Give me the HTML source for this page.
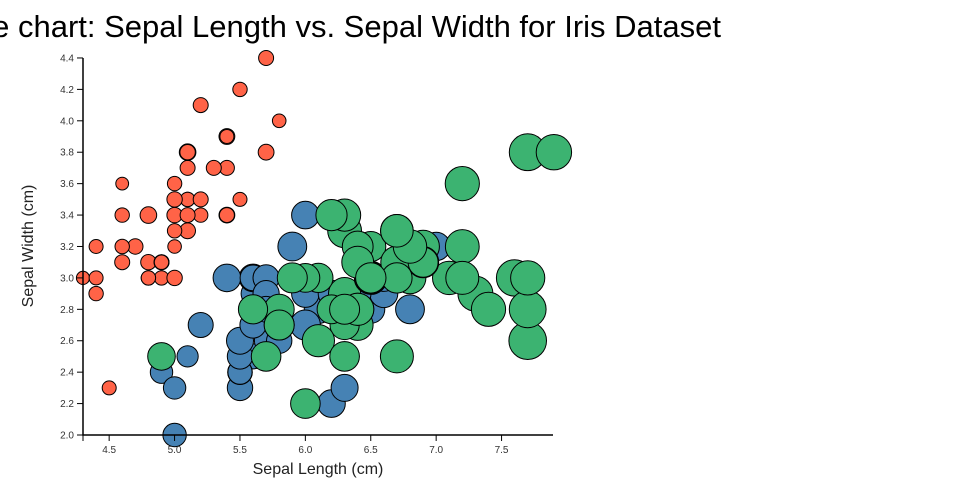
<!DOCTYPE html>
<html><head><meta charset="utf-8"><style>
html,body{margin:0;padding:0;background:#fff;}
svg{display:block;font-family:"Liberation Sans",sans-serif;}
</style></head><body>
<svg id="s" width="960" height="500" xmlns="http://www.w3.org/2000/svg">
<text x="721" y="37" font-size="31" text-anchor="end" fill="#000">Bubble chart: Sepal Length vs. Sepal Width for Iris Dataset</text>
<g id="pts" stroke="#000" stroke-width="1"></g>
<g id="ax" font-size="10" fill="#333"></g>
<text x="318" y="474" font-size="16" text-anchor="middle" fill="#222">Sepal Length (cm)</text>
<text transform="translate(33,246) rotate(-90)" font-size="16" text-anchor="middle" fill="#222">Sepal Width (cm)</text>
</svg>
<script>
var S="5.1,3.5,1.4;4.9,3.0,1.4;4.7,3.2,1.3;4.6,3.1,1.5;5.0,3.6,1.4;5.4,3.9,1.7;4.6,3.4,1.4;5.0,3.4,1.5;4.4,2.9,1.4;4.9,3.1,1.5;5.4,3.7,1.5;4.8,3.4,1.6;4.8,3.0,1.4;4.3,3.0,1.1;5.8,4.0,1.2;5.7,4.4,1.5;5.4,3.9,1.3;5.1,3.5,1.4;5.7,3.8,1.7;5.1,3.8,1.5;5.4,3.4,1.7;5.1,3.7,1.5;4.6,3.6,1.0;5.1,3.3,1.7;4.8,3.4,1.9;5.0,3.0,1.6;5.0,3.4,1.6;5.2,3.5,1.5;5.2,3.4,1.4;4.7,3.2,1.6;4.8,3.1,1.6;5.4,3.4,1.5;5.2,4.1,1.5;5.5,4.2,1.4;4.9,3.1,1.5;5.0,3.2,1.2;5.5,3.5,1.3;4.9,3.1,1.4;4.4,3.0,1.3;5.1,3.4,1.5;5.0,3.5,1.3;4.5,2.3,1.3;4.4,3.2,1.3;5.0,3.5,1.6;5.1,3.8,1.9;4.8,3.0,1.4;5.1,3.8,1.6;4.6,3.2,1.4;5.3,3.7,1.5;5.0,3.3,1.4";
var V="7.0,3.2,4.7;6.4,3.2,4.5;6.9,3.1,4.9;5.5,2.3,4.0;6.5,2.8,4.6;5.7,2.8,4.5;6.3,3.3,4.7;4.9,2.4,3.3;6.6,2.9,4.6;5.2,2.7,3.9;5.0,2.0,3.5;5.9,3.0,4.2;6.0,2.2,4.0;6.1,2.9,4.7;5.6,2.9,3.6;6.7,3.1,4.4;5.6,3.0,4.5;5.8,2.7,4.1;6.2,2.2,4.5;5.6,2.5,3.9;5.9,3.2,4.8;6.1,2.8,4.0;6.3,2.5,4.9;6.1,2.8,4.7;6.4,2.9,4.3;6.6,3.0,4.4;6.8,2.8,4.8;6.7,3.0,5.0;6.0,2.9,4.5;5.7,2.6,3.5;5.5,2.4,3.8;5.5,2.4,3.7;5.8,2.7,3.9;6.0,2.7,5.1;5.4,3.0,4.5;6.0,3.4,4.5;6.7,3.1,4.7;6.3,2.3,4.4;5.6,3.0,4.1;5.5,2.5,4.0;5.5,2.6,4.4;6.1,3.0,4.6;5.8,2.6,4.0;5.0,2.3,3.3;5.6,2.7,4.2;5.7,3.0,4.2;5.7,2.9,4.2;6.2,2.9,4.3;5.1,2.5,3.0;5.7,2.8,4.1";
var G="6.3,3.3,6.0;5.8,2.7,5.1;7.1,3.0,5.9;6.3,2.9,5.6;6.5,3.0,5.8;7.6,3.0,6.6;4.9,2.5,4.5;7.3,2.9,6.3;6.7,2.5,5.8;7.2,3.6,6.1;6.5,3.2,5.1;6.4,2.7,5.3;6.8,3.0,5.5;5.7,2.5,5.0;5.8,2.8,5.1;6.4,3.2,5.3;6.5,3.0,5.5;7.7,3.8,6.7;7.7,2.6,6.9;6.0,2.2,5.0;6.9,3.2,5.7;5.6,2.8,4.9;7.7,2.8,6.7;6.3,2.7,4.9;6.7,3.3,5.7;7.2,3.2,6.0;6.2,2.8,4.8;6.1,3.0,4.9;6.4,2.8,5.6;7.2,3.0,5.8;7.4,2.8,6.1;7.9,3.8,6.4;6.4,2.8,5.6;6.3,2.8,5.1;6.1,2.6,5.6;7.7,3.0,6.1;6.3,3.4,5.6;6.4,3.1,5.5;6.0,3.0,4.8;6.9,3.1,5.4;6.7,3.1,5.6;6.9,3.1,5.1;5.8,2.7,5.1;6.8,3.2,5.9;6.7,3.3,5.7;6.7,3.0,5.2;6.3,2.5,5.0;6.5,3.0,5.2;6.2,3.4,5.4;5.9,3.0,5.1";
function X(v){return 83+(v-4.3)*130.8;}
function Y(v){return 435-(v-2.0)*157.1;}
var h="";
[[S,"#ff6347"],[V,"#4682b4"],[G,"#3cb371"]].forEach(function(p){
 p[0].split(";").forEach(function(r){var a=r.split(",").map(Number);
  h+='<circle cx="'+X(a[0]).toFixed(1)+'" cy="'+Y(a[1]).toFixed(1)+'" r="'+(2.1*a[2]+4.3).toFixed(1)+'" fill="'+p[1]+'"/>';});
});
document.getElementById("pts").innerHTML=h;
var ax='<path d="M83,58V435H553" fill="none" stroke="#000" stroke-width="1.5"/>';
for(var i=0;i<=12;i++){var v=2+i*0.2,y=Y(v);
 ax+='<line x1="77" x2="83" y1="'+y+'" y2="'+y+'" stroke="#000"/><text x="74" y="'+(y+3.5)+'" text-anchor="end">'+v.toFixed(1)+'</text>';}
for(var j=0;j<=6;j++){var u=4.5+j*0.5,x=X(u);
 ax+='<line x1="'+x+'" x2="'+x+'" y1="435" y2="441" stroke="#000"/><text x="'+x+'" y="453" text-anchor="middle">'+u.toFixed(1)+'</text>';}
ax+='<line x1="83" x2="83" y1="435" y2="441" stroke="#000"/>';
document.getElementById("ax").innerHTML=ax;
</script>
</body></html>
